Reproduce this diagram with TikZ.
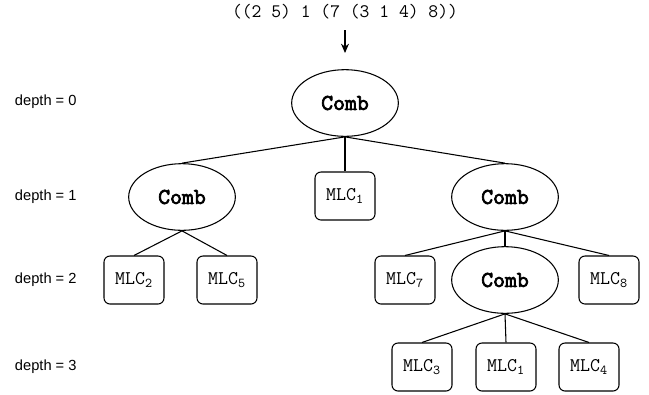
\documentclass[tikz,border=0pt]{standalone}
\usepackage{fontspec}
\setmainfont{Liberation Sans}
\setsansfont{Liberation Sans}
\newfontfamily\combfont{lmmono10-regular.otf}[FakeBold=3]
\usetikzlibrary{shapes, arrows.meta, positioning}

\begin{document}
\begin{tikzpicture}[x=0.75pt, y=-0.75pt, line width=0.8pt,
        comb/.style={draw, ellipse, minimum width=80pt, minimum height=50pt, inner sep=0pt,
            font=\fontsize{17}{20}\combfont},
        mlc/.style={draw, rounded corners=4.5pt, minimum width=45pt, minimum height=36pt, inner sep=0pt,
            font=\fontsize{14.5}{17}\ttfamily},
        depth/.style={anchor=west, font=\fontsize{11}{13}\sffamily}]
        % Rahmen
        \useasboundingbox (0,0) rectangle (649,394);

        % --- Eingabe ---
        \node[font=\fontsize{14.3}{17}\ttfamily] (expr) at (345,12) {((2 5) 1 (7 (3 1 4) 8))};
        \coordinate (arrBeg) at (345,30);
        \coordinate (arrEnd) at (345,53);
        \draw[-{Stealth[length=7pt, width=6pt]}] (arrBeg) -- (arrEnd);

        % --- Tiefen ---
        \foreach \y/\d in {102/0, 197/1, 280/2, 367/3}
            \node[depth] at (10,\y) {depth = \d};

        % depth 0
        \node[comb] (root) at (345,103) {Comb};
        % depth 1
        \node[comb] (combL) at (182,197) {Comb};
        \node[mlc] (mlcA) at (345,196) {MLC\textsubscript{1}};
        \node[comb] (combR) at (505,197) {Comb};
        % depth 2
        \node[mlc] (mlcB) at (134,280) {MLC\textsubscript{2}};
        \node[mlc] (mlcC) at (227,280) {MLC\textsubscript{5}};
        \node[mlc] (mlcD) at (405,280) {MLC\textsubscript{7}};
        \node[comb] (combIn) at (505,280) {Comb};
        \node[mlc] (mlcE) at (609,280) {MLC\textsubscript{8}};
        % depth 3
        \node[mlc] (mlcF) at (422,367) {MLC\textsubscript{3}};
        \node[mlc] (mlcG) at (506,367) {MLC\textsubscript{1}};
        \node[mlc] (mlcH) at (589,367) {MLC\textsubscript{4}};

        % Kanten
        \foreach \p/\c in {root/combL, root/mlcA, root/combR,
                combL/mlcB, combL/mlcC,
                combR/mlcD, combR/combIn, combR/mlcE,
                combIn/mlcF, combIn/mlcG, combIn/mlcH}
            \draw (\p.south) -- (\c.north);

    \end{tikzpicture}
\end{document}
